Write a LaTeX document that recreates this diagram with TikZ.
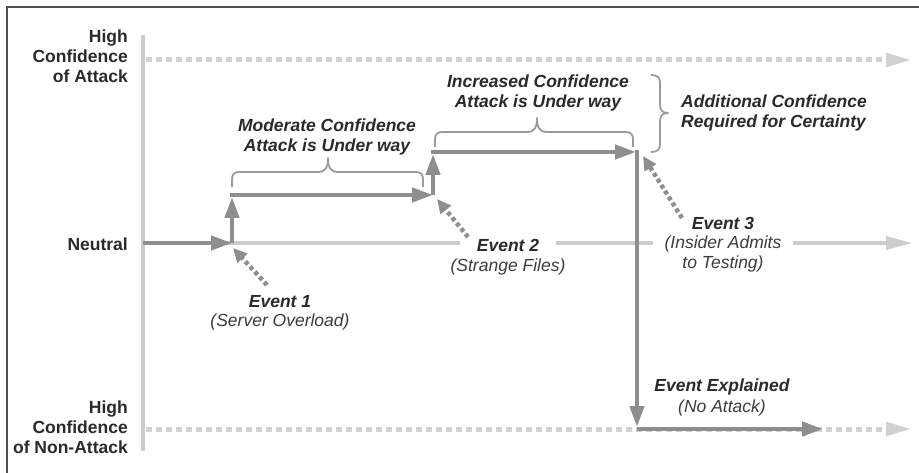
\documentclass[tikz,border=0pt]{standalone}
\usepackage{fontspec}
\setmainfont{Liberation Sans}
\usetikzlibrary{arrows.meta}
\definecolor{framegray}{HTML}{505050}
\definecolor{axisgray}{HTML}{CCCCCC}
\definecolor{pathgray}{HTML}{8E8E8E}
\definecolor{bracegray}{HTML}{9A9A9A}
\definecolor{labeldark}{HTML}{2A2A2A}
\definecolor{notegray}{HTML}{3C3C3C}
\tikzset{
  basefont/.style={font=\fontsize{17.5}{20}\selectfont#1},
  axislabel/.style={basefont=\bfseries, text=labeldark, align=right, anchor=east, inner sep=0pt},
  evtitle/.style={basefont=\bfseries\itshape, text=labeldark, align=center, inner sep=0pt},
  evnote/.style={basefont=\itshape, text=notegray, align=center, inner sep=0pt},
  axisline/.style={draw=axisgray, line width=3.5pt},
  levelline/.style={draw=axisgray!90, line width=5pt, dash pattern=on 6pt off 4pt,
    -{Triangle[length=26pt,width=13pt]}},
  neutralline/.style={draw=axisgray, line width=3.5pt},
  progress/.style={draw=pathgray, line width=4.5pt, -{Triangle[length=21pt,width=14pt]}},
  progressplain/.style={draw=pathgray, line width=4.5pt},
  pointer/.style={draw=pathgray, line width=4.5pt, dash pattern=on 4pt off 3pt,
    -{Triangle[length=14pt,width=13pt]}},
  bracket/.style={draw=bracegray, line width=1.8pt, line join=round}
}
\begin{document}
\begin{tikzpicture}[x=1pt, y=-1pt]
  % canvas
  \fill[white] (0,0) rectangle (919,473);
  \useasboundingbox (0,0) rectangle (919,473);
  \draw[framegray, line width=2pt] (919,7) -- (7,7) -- (7,473);

  % vertical scale
  \draw[axisline] (143,35) -- (143,451);

  % scale labels
  \node[axislabel] (lblattack) at (128,56) {High\\Confidence\\of Attack};
  \node[axislabel] (lblneutral) at (128,244) {Neutral};
  \node[axislabel] (lblnonattack) at (128,427) {High\\Confidence\\of Non-Attack};

  % key points
  \coordinate (origin) at (143,243);
  \coordinate (j1) at (232,243);
  \coordinate (j1up) at (232,197);
  \coordinate (h1start) at (230,195);
  \coordinate (j2) at (433,195);
  \coordinate (j2up) at (433,154);
  \coordinate (h2start) at (431,152);
  \coordinate (j3) at (636,152);
  \coordinate (v3start) at (637,150);
  \coordinate (j3down) at (637,427);
  \coordinate (h3start) at (637,429);
  \coordinate (h3end) at (823,429);

  % confidence levels
  \coordinate (topstart) at (146,60);
  \coordinate (topend) at (912,60);
  \coordinate (botstart) at (146,429);
  \coordinate (botend) at (912,429);
  \draw[levelline] (topstart) -- (topend);
  \draw[levelline] (botstart) -- (botend);

  % event labels
  \node[evtitle] (ev1t) at (280,302) {Event 1};
  \node[evnote] (ev1n) at (280,322) {(Server Overload)};
  \node[evtitle] (ev2t) at (508,245) {Event 2};
  \node[evnote] (ev2n) at (508,267) {(Strange Files)};
  \node[evtitle] (ev3t) at (723,223) {Event 3};
  \node[evnote] (ev3n) at (723,244) {(Insider Admits};
  \node[evnote] (ev3n2) at (723,264) {to Testing)};
  \node[evtitle] (evxt) at (722,387) {Event Explained};
  \node[evnote] (evxn) at (722,408) {(No Attack)};

  % neutral line, broken around the labels
  \coordinate (neutstart) at (146,243);
  \coordinate (neutend) at (912,243);
  \draw[neutralline] (neutstart) -- ([xshift=-17pt]ev2t.west |- origin);
  \draw[neutralline] ([xshift=17pt]ev2t.east |- origin) -- ([xshift=-11pt]ev3n.west |- origin);
  \draw[neutralline, -{Triangle[length=26pt,width=13pt]}] ([xshift=11pt]ev3n.east |- origin) -- (neutend);

  % confidence path
  \draw[progress] (origin) -- (j1);
  \draw[progress] (j1) -- (j1up);
  \draw[progress] (h1start) -- (j2);
  \draw[progress] (j2) -- (j2up);
  \draw[progress] (h2start) -- (j3);
  \draw[progress] (v3start) -- (j3down);
  \draw[progress] (h3start) -- (h3end);

  % event pointers
  \coordinate (p1tail) at (267,285);
  \coordinate (p1tip) at (233,248);
  \coordinate (p2tail) at (468,237);
  \coordinate (p2tip) at (437,199);
  \coordinate (p3tail) at (682,218);
  \coordinate (p3tip) at (643,156);
  \draw[pointer] (p1tail) -- (p1tip);
  \draw[pointer] (p2tail) -- (p2tip);
  \draw[pointer] (p3tail) -- (p3tip);

  % braces
  \draw[bracket] (232,187) -- (232,180) .. controls (232,174) and (234,172) .. (240,172)
    -- (318,172) .. controls (325,172) and (328,168) .. (328,158)
    .. controls (328,168) and (331,172) .. (338,172)
    -- (415,172) .. controls (421,172) and (423,174) .. (423,180) -- (423,187);
  \draw[bracket] (435,147) -- (435,140) .. controls (435,134) and (437,132) .. (443,132)
    -- (527,132) .. controls (534,132) and (537,128) .. (537,118)
    .. controls (537,128) and (540,132) .. (547,132)
    -- (625,132) .. controls (631,132) and (633,134) .. (633,140) -- (633,147);
  \draw[bracket] (651,75) .. controls (657,75) and (660,77) .. (660,83)
    -- (660,104) .. controls (660,110) and (662,113) .. (668,113)
    .. controls (662,113) and (660,116) .. (660,122)
    -- (660,144) .. controls (660,150) and (657,152) .. (651,152);

  % brace captions
  \node[evtitle] (modcap) at (327,137) {Moderate Confidence\\Attack is Under way};
  \node[evtitle] (inccap) at (538,93) {Increased Confidence\\Attack is Under way};
  \node[evtitle, align=left, anchor=west] (addcap) at (681,113) {Additional Confidence\\Required for Certainty};
\end{tikzpicture}
\end{document}
